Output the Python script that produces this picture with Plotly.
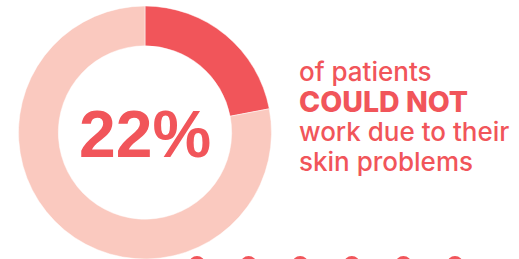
import plotly.graph_objects as go

labels = ["Could not work", "Other"]
values = [22, 78]
colors = ["#F1555A", "#FAC9BF"]
headline = "22%"
caption_lines = ["of patients", "COULD NOT", "work due to their", "skin problems"]
caption_weights = [500, 800, 500, 500]
caption_sizes = [26, 28.5, 26, 26]
dot_count = 6

W, H = 519, 259
fig = go.Figure()
fig.add_trace(go.Pie(
    labels=labels, values=values, sort=False, direction="clockwise", rotation=0,
    hole=0.685, textinfo="none", hoverinfo="label+percent",
    marker=dict(colors=colors, line=dict(color="white", width=0.5)),
    domain=dict(x=[18.5 / W, 271.5 / W], y=[0, 253 / H]),
    showlegend=False,
))

fig.add_annotation(x=145 / W, y=1 - 134 / H, xref="paper", yref="paper",
                   text=f"<b>{headline}</b>", showarrow=False,
                   font=dict(family="Liberation Sans, Arial", size=66, color=colors[0]),
                   xanchor="center", yanchor="middle")

for i, (line, wt, sz) in enumerate(zip(caption_lines, caption_weights, caption_sizes)):
    cy = 71.5 + i * 30
    fig.add_annotation(x=(297 if sz == 26 else 296.5) / W, y=1 - cy / H,
                       xref="paper", yref="paper",
                       text=line, showarrow=False, align="left",
                       font=dict(family="Inter", size=sz, color=colors[0], weight=wt),
                       xanchor="left", yanchor="middle")

for i in range(dot_count):
    cx = 197 + i * 51.6
    fig.add_shape(type="circle", xref="paper", yref="paper",
                  x0=(cx - 8) / W, x1=(cx + 8) / W,
                  y0=1 - 272 / H, y1=1 - 256 / H,
                  fillcolor=colors[0], line=dict(width=0))

fig.update_layout(width=W, height=H, margin=dict(l=0, r=0, t=0, b=0),
                  paper_bgcolor="white", plot_bgcolor="white")
fig.write_html("out.html", config={"displayModeBar": False},
               post_script="document.body.style.margin='0';")
